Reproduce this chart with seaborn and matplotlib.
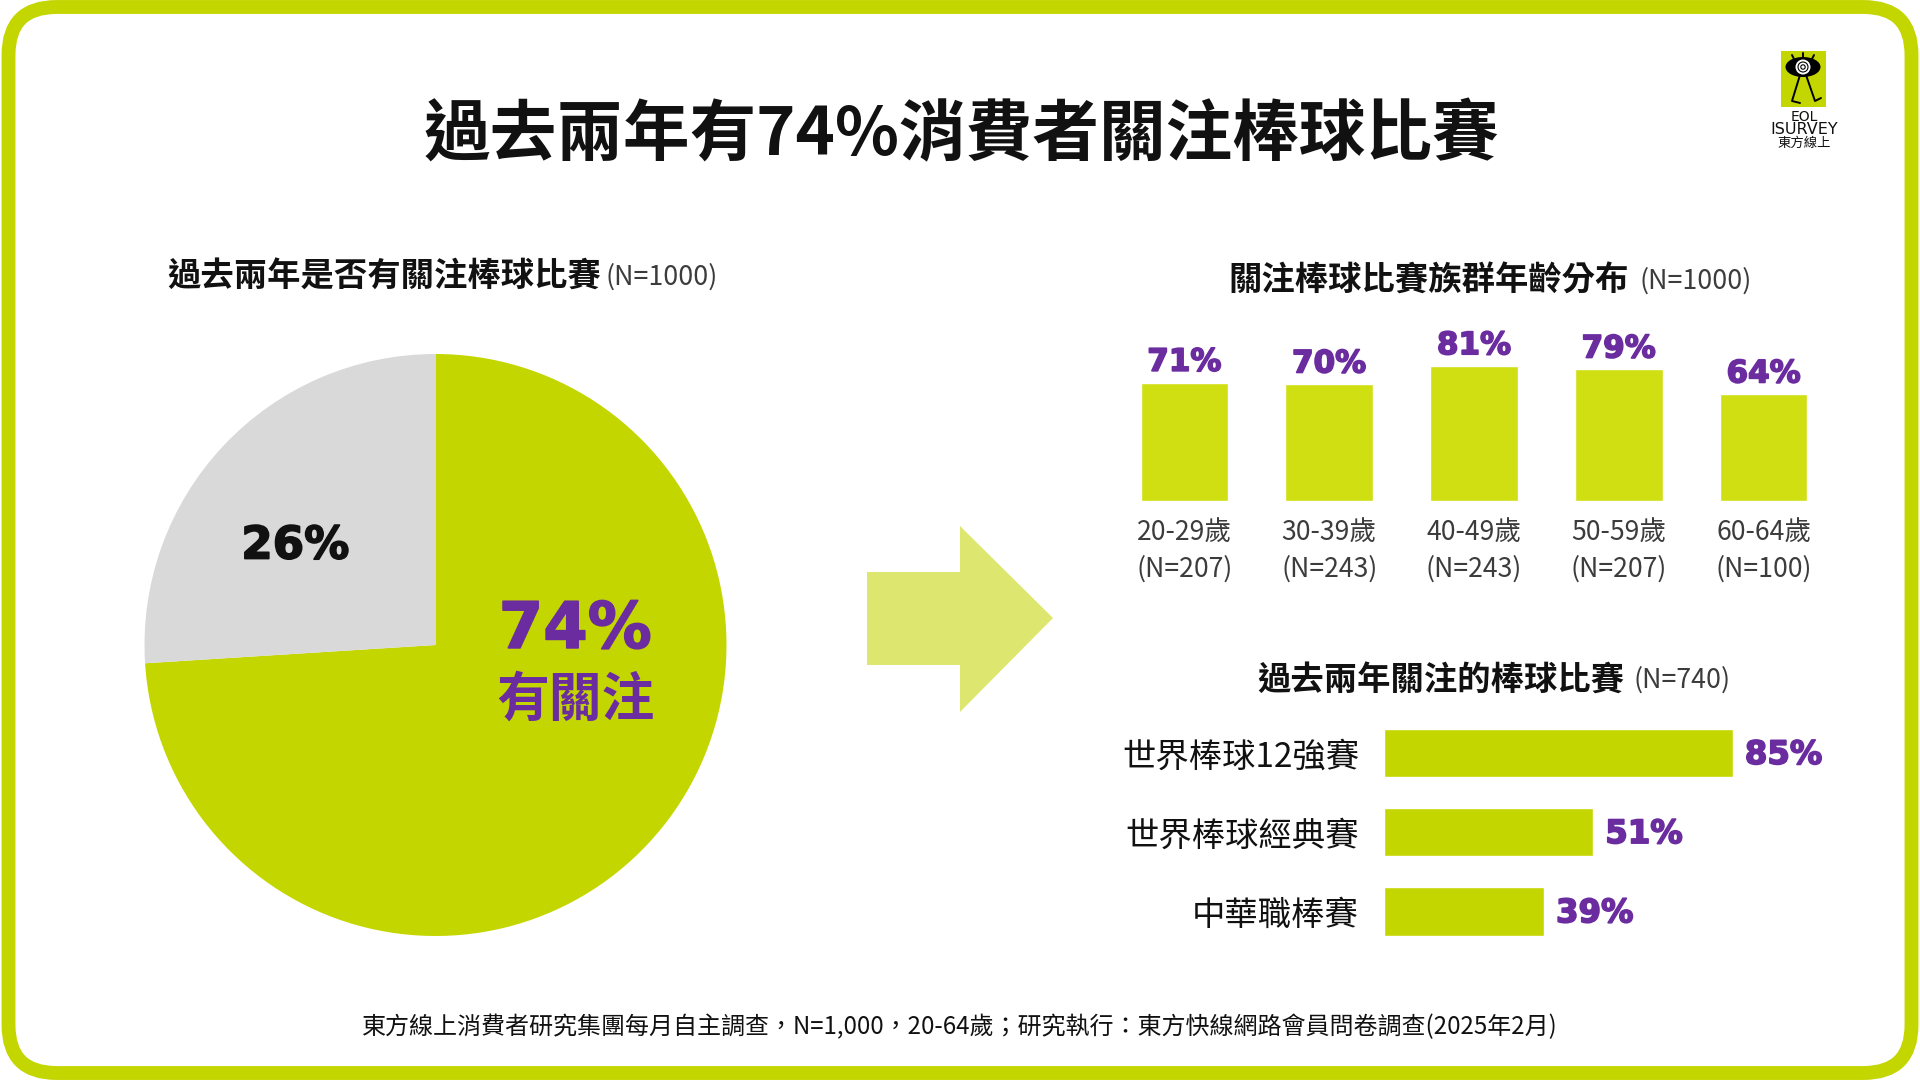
import matplotlib
matplotlib.use("Agg")
import matplotlib.pyplot as plt
import matplotlib.patheffects as pe
import pandas as pd
import seaborn as sns
from matplotlib.patches import Circle, Ellipse, FancyBboxPatch, Polygon, Rectangle

# Chart values
pie_labels = ["有關注", "沒有關注"]
pie_values = [74, 26]
age_groups = ["20-29歲\n(N=207)", "30-39歲\n(N=243)", "40-49歲\n(N=243)", "50-59歲\n(N=207)", "60-64歲\n(N=100)"]
age_values = [71, 70, 81, 79, 64]
games = ["世界棒球12強賽", "世界棒球經典賽", "中華職棒賽"]
game_values = [85, 51, 39]

LIME = "#c4d600"
LIME_BAR = "#cfdf12"
ARROW = "#dde76f"
PURPLE = "#6a2c9f"
GRAY = "#d9d9d9"
DARK = "#111111"
MID = "#3c3c3c"
W, H = 1920, 1080

sns.set_theme(style="white")
plt.rcParams["font.family"] = ["Noto Sans CJK TC", "DejaVu Sans"]
NUM_FONT = "DejaVu Sans"


def add_axes_px(left, top, right, bottom):
    return fig.add_axes([left / W, 1 - bottom / H, (right - left) / W, (bottom - top) / H])


def num_text(ax, x, y, s, size, color, **kw):
    txt = ax.text(x, y, s, fontsize=size, fontweight="bold", family=NUM_FONT, color=color, **kw)
    txt.set_path_effects([pe.withStroke(linewidth=1.2, foreground=color)])
    return txt


fig = plt.figure(figsize=(19.2, 10.8), dpi=100, facecolor="white")

# overlay in pixel coordinates for frame, arrow, titles and logo
bg = fig.add_axes([0, 0, 1, 1], zorder=0)
bg.set_xlim(0, W)
bg.set_ylim(H, 0)
bg.axis("off")

bg.add_patch(FancyBboxPatch((8.5, 7), W - 17, H - 14, boxstyle="round,pad=0,rounding_size=48",
                            fc="white", ec=LIME, lw=10))
bg.add_patch(Polygon([(867, 572), (960, 572), (960, 526), (1053, 618), (960, 712), (960, 665), (867, 665)],
                     closed=True, fc=ARROW, ec="none"))

bg.text(961, 136, "過去兩年有74%消費者關注棒球比賽", ha="center", va="center",
        fontsize=48, fontweight="bold", color=DARK)
bg.text(601, 277, "過去兩年是否有關注棒球比賽", ha="right", va="center", fontsize=24, fontweight="bold", color=DARK)
bg.text(605, 277, "(N=1000)", ha="left", va="center", fontsize=19.3, color=MID)
bg.text(1629, 281, "關注棒球比賽族群年齡分布", ha="right", va="center", fontsize=24, fontweight="bold", color=DARK)
bg.text(1639, 281, "(N=1000)", ha="left", va="center", fontsize=19.3, color=MID)
bg.text(1624, 680, "過去兩年關注的棒球比賽", ha="right", va="center", fontsize=24, fontweight="bold", color=DARK)
bg.text(1634, 680, "(N=740)", ha="left", va="center", fontsize=19.3, color=MID)
bg.text(960, 1027, "東方線上消費者研究集團每月自主調查，N=1,000，20-64歲；研究執行：東方快線網路會員問卷調查(2025年2月)",
        ha="center", va="center", fontsize=17.3, color=DARK)

# logo
bg.add_patch(Rectangle((1781, 51), 45, 56, fc=LIME, ec="none"))
bg.add_patch(Ellipse((1803, 67), 35, 20, fc="black", ec="none"))
bg.add_patch(Circle((1803, 67), 7.5, fc="white", ec="none"))
bg.add_patch(Circle((1803, 67), 5, fc="none", ec="black", lw=0.8))
bg.add_patch(Circle((1803, 67), 2.2, fc="none", ec="black", lw=0.8))
bg.plot([1803, 1803], [53, 57], color="black", lw=1.4)
bg.plot([1792, 1794], [55, 59], color="black", lw=1.4)
bg.plot([1814, 1812], [55, 59], color="black", lw=1.4)
bg.plot([1800, 1792, 1800], [75, 101, 103], color="black", lw=1.4)
bg.plot([1806, 1815, 1821], [75, 101, 98], color="black", lw=1.4)
bg.text(1804, 117, "EOL", ha="center", va="center", fontsize=10, family="DejaVu Sans", color=DARK)
bg.text(1804, 130, "ISURVEY", ha="center", va="center", fontsize=11.5, family="DejaVu Sans", color=DARK)
bg.text(1804, 143, "東方線上", ha="center", va="center", fontsize=9.6, color=DARK)

# pie
ax_pie = add_axes_px(435.5 - 291, 645 - 291, 435.5 + 291, 645 + 291)
ax_pie.pie(pie_values, colors=[LIME, GRAY], startangle=90, counterclock=False, radius=1,
           wedgeprops={"linewidth": 0})
ax_pie.set_xlim(-1, 1)
ax_pie.set_ylim(-1, 1)
num_text(ax_pie, 0.48, 0.052, "74%", 46, PURPLE, ha="center", va="center")
ax_pie.text(0.48, -0.188, pie_labels[0], ha="center", va="center", fontsize=38, fontweight="bold", color=PURPLE)
num_text(ax_pie, -0.482, 0.34, "26%", 32.5, DARK, ha="center", va="center")

# age bars
age_df = pd.DataFrame({"age": age_groups, "value": age_values})
ax_age = add_axes_px(1112, 334.5, 1836, 500.5)
sns.barplot(data=age_df, x="age", y="value", ax=ax_age, color=LIME_BAR, saturation=1, width=0.605)
ax_age.set_xlim(-0.5, 4.5)
ax_age.set_ylim(0, 100)
ax_age.set_xlabel("")
ax_age.set_ylabel("")
ax_age.set_yticks([])
ax_age.tick_params(axis="x", length=0, labelsize=19.2, labelcolor=MID, pad=14)
for tick in ax_age.get_xticklabels():
    tick.set_linespacing(1.38)
ax_age.patch.set_alpha(0)
sns.despine(ax=ax_age, left=True, bottom=True)
for bar, val in zip(ax_age.patches, age_values):
    num_text(ax_age, bar.get_x() + bar.get_width() / 2, val + 3.5, f"{val}%", 22.3, PURPLE, ha="center", va="bottom")

# game bars
game_df = pd.DataFrame({"game": games, "value": game_values})
ax_game = add_axes_px(1384, 713.5, 1794.5, 951)
sns.barplot(data=game_df, x="value", y="game", ax=ax_game, color=LIME, saturation=1, width=0.61, orient="h")
ax_game.set_xlim(0, 100)
ax_game.set_xlabel("")
ax_game.set_ylabel("")
ax_game.set_xticks([])
ax_game.tick_params(axis="y", length=0, labelsize=24, labelcolor=DARK, pad=18)
ax_game.patch.set_alpha(0)
sns.despine(ax=ax_game, left=True, bottom=True)
for bar, val in zip(ax_game.patches, game_values):
    num_text(ax_game, val + 2.9, bar.get_y() + bar.get_height() / 2 + 0.03, f"{val}%", 23.3, PURPLE,
             ha="left", va="center")

fig.savefig("out.png", dpi=100)
